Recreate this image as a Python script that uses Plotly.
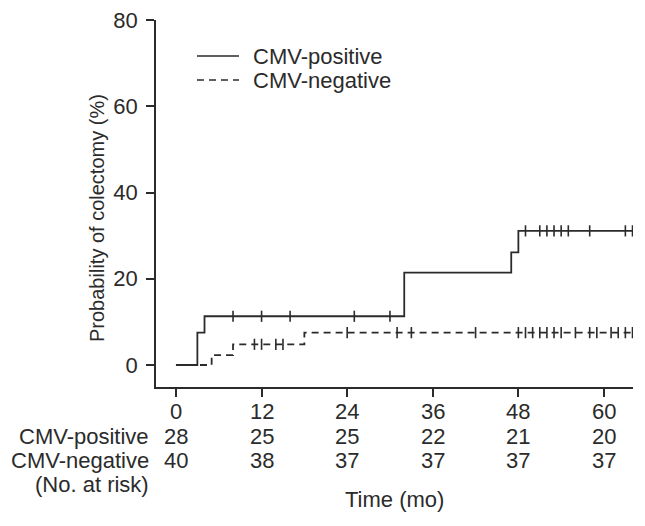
import plotly.graph_objects as go

# ---- data ----
pos_times = [0, 3, 4, 32, 47, 48, 64]
pos_prob = [0, 7.5, 11.3, 21.4, 26.1, 31.1, 31.1]
pos_censor = [8, 12, 16, 25, 30, 49, 51, 52, 53, 54, 55, 58, 63, 64]

neg_times = [0, 5, 8, 18, 64]
neg_prob = [0, 2.3, 4.8, 7.5, 7.5]
neg_censor = [11, 12, 14, 15, 24, 31, 33, 42, 48, 49, 50, 51, 52, 53, 54,
              56, 58, 59, 61, 62, 63, 64]

risk_times = [0, 12, 24, 36, 48, 60]
risk_pos = [28, 25, 25, 22, 21, 20]
risk_neg = [40, 38, 37, 37, 37, 37]

x_ticks = [0, 12, 24, 36, 48, 60]
y_ticks = [0, 20, 40, 60, 80]

INK = "#2b2b2b"
FONT = "Liberation Sans, Arial, sans-serif"
FS = 22
FS_TITLE = 20


def step_value(times, probs, t):
    v = probs[0]
    for tt, pp in zip(times, probs):
        if tt <= t:
            v = pp
    return v


fig = go.Figure()

fig.add_trace(go.Scatter(x=pos_times, y=pos_prob, mode="lines", line_shape="hv",
                         line=dict(color=INK, width=1.8), showlegend=False))
fig.add_trace(go.Scatter(x=neg_times, y=neg_prob, mode="lines", line_shape="hv",
                         line=dict(color=INK, width=1.8, dash="7px,5px"),
                         showlegend=False))
fig.add_trace(go.Scatter(x=pos_censor,
                         y=[step_value(pos_times, pos_prob, t) for t in pos_censor],
                         mode="markers",
                         marker=dict(symbol="line-ns", size=8,
                                     line=dict(color=INK, width=1.6)),
                         showlegend=False))
fig.add_trace(go.Scatter(x=neg_censor,
                         y=[step_value(neg_times, neg_prob, t) for t in neg_censor],
                         mode="markers",
                         marker=dict(symbol="line-ns", size=8,
                                     line=dict(color=INK, width=1.6)),
                         showlegend=False))

# page-pixel geometry of the plot area (page has an 8px body offset)
OFF = 8
L, R, T, B = 156, 633, 20, 387
W, H = 645, 526


def px(p):
    return (p - L) / (R - L)


def py(q):
    return (B - q) / (B - T)


# manual legend
fig.add_shape(type="line", xref="paper", yref="paper", x0=px(197), x1=px(239),
              y0=py(56), y1=py(56), line=dict(color=INK, width=1.6))
fig.add_shape(type="line", xref="paper", yref="paper", x0=px(197), x1=px(239),
              y0=py(80), y1=py(80), line=dict(color=INK, width=1.6, dash="7px,5px"))
for label, yy in [("CMV-positive", 56), ("CMV-negative", 80)]:
    fig.add_annotation(text=label, xref="paper", yref="paper", x=px(251), y=py(yy),
                       xanchor="left", yanchor="middle", showarrow=False,
                       font=dict(size=FS, color=INK, family=FONT))

# x tick labels (placed as text under each tick)
for t in x_ticks:
    fig.add_annotation(text=str(t), xref="x", yref="paper", x=t, y=py(411),
                       xanchor="center", yanchor="middle", showarrow=False,
                       font=dict(size=FS, color=INK, family=FONT))

# number at risk table
for label, yy in [("CMV-positive", 436), ("CMV-negative", 460), ("(No. at risk)", 484)]:
    fig.add_annotation(text=label, xref="paper", yref="paper", x=px(151), y=py(yy),
                       xanchor="right", yanchor="middle", showarrow=False,
                       font=dict(size=FS, color=INK, family=FONT))
for t, a, b in zip(risk_times, risk_pos, risk_neg):
    fig.add_annotation(text=str(a), xref="x", yref="paper", x=t, y=py(436),
                       xanchor="center", yanchor="middle", showarrow=False,
                       font=dict(size=FS, color=INK, family=FONT))
    fig.add_annotation(text=str(b), xref="x", yref="paper", x=t, y=py(460),
                       xanchor="center", yanchor="middle", showarrow=False,
                       font=dict(size=FS, color=INK, family=FONT))

fig.add_annotation(text="Time (mo)", xref="paper", yref="paper", x=0.5, y=py(499),
                   xanchor="center", yanchor="middle", showarrow=False,
                   font=dict(size=FS, color=INK, family=FONT))
fig.add_annotation(text="Probability of colectomy (%)", xref="paper", yref="paper",
                   x=px(97), y=py(218), xanchor="center", yanchor="middle",
                   textangle=-90, showarrow=False,
                   font=dict(size=FS_TITLE, color=INK, family=FONT))

axis_common = dict(showgrid=False, zeroline=False, showline=True, linecolor=INK,
                   linewidth=1.8, ticks="outside", ticklen=8, tickwidth=1.8,
                   tickcolor=INK, automargin=False, ticklabeloverflow="allow",
                   tickfont=dict(size=FS, color=INK, family=FONT))

fig.update_xaxes(range=[-2.8, 64.07], tickvals=x_ticks, showticklabels=False,
                 **axis_common)
fig.update_yaxes(range=[-5.1, 80], tickvals=y_ticks, ticklabelstandoff=4,
                 **axis_common)

fig.update_layout(width=W, height=H,
                  margin=dict(l=L - OFF, r=W - R + OFF, t=T - OFF, b=H - B + OFF),
                  plot_bgcolor="white", paper_bgcolor="white",
                  font=dict(family=FONT, color=INK, size=FS))

fig.write_html("out.html")
